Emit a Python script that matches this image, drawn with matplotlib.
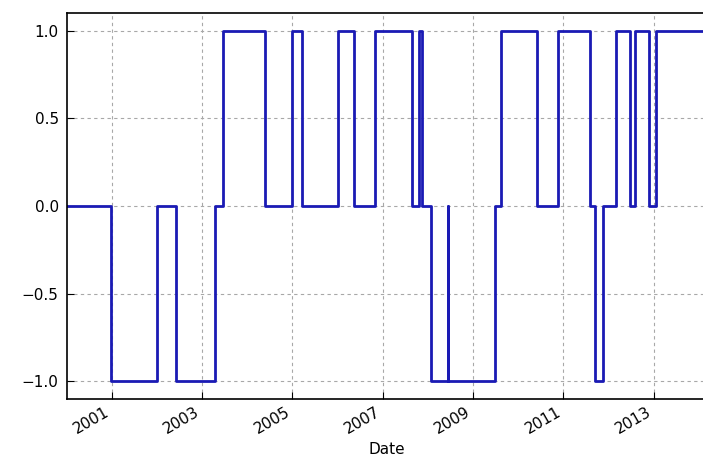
import matplotlib
matplotlib.use("Agg")
import matplotlib.pyplot as plt
import matplotlib.dates as mdates
import pandas as pd

# Signal change points (date, value) -- step series
change_dates = [
    "2000-01-03", "2000-12-27", "2002-01-01", "2002-06-02", "2003-04-15",
    "2003-06-17", "2004-05-26", "2004-12-27", "2005-03-18", "2006-01-08",
    "2006-05-18", "2006-10-27", "2007-08-28", "2007-10-18", "2007-11-14",
    "2008-01-29", "2008-06-10", "2008-06-14", "2009-07-01", "2009-08-18",
    "2010-06-06", "2010-11-16", "2011-08-04", "2011-09-13", "2011-11-21",
    "2012-03-01", "2012-06-24", "2012-07-30", "2012-11-28", "2013-01-19",
    "2014-02-28",
]
signal_values = [
    0, -1, 0, -1, 0,
    1, 0, 1, 0, 1,
    0, 1, 0, 1, 0,
    -1, 0, -1, 0, 1,
    0, 1, 0, -1, 0,
    1, 0, 1, 0, 1,
    1,
]
tick_years = [2001, 2003, 2005, 2007, 2009, 2011, 2013]
y_ticks = [-1.0, -0.5, 0.0, 0.5, 1.0]

dates = pd.to_datetime(change_dates)

fig = plt.figure(figsize=(7.03, 4.75), dpi=100)
ax = fig.add_axes([67 / 703, (475 - 399) / 475, (706 - 67) / 703, (399 - 13) / 475])

ax.plot(dates, signal_values, drawstyle="steps-post", color="#1a1ab4", lw=2)

ax.set_xlim(pd.Timestamp("2000-01-05"), pd.Timestamp("2014-02-28"))
ax.set_ylim(-1.1, 1.1)
ax.set_yticks(y_ticks)
ax.set_yticklabels([f"{v:.1f}".replace("-", "\u2212") for v in y_ticks])
ax.set_xticks([pd.Timestamp(f"{y}-01-01") for y in tick_years])
ax.xaxis.set_major_formatter(mdates.DateFormatter("%Y"))

for lbl in ax.get_xticklabels():
    lbl.set_rotation(30)
    lbl.set_ha("right")

ax.tick_params(direction="in", length=5, labelsize=11, colors="black", pad=6)
ax.tick_params(axis="x", pad=4)
ax.grid(True, color="#a8a8a8", linestyle=(0, (3, 3)), linewidth=0.8)
for s in ax.spines.values():
    s.set_linewidth(1.2)
ax.set_xlabel("Date", fontsize=11)

fig.savefig("out.png", dpi=100)
